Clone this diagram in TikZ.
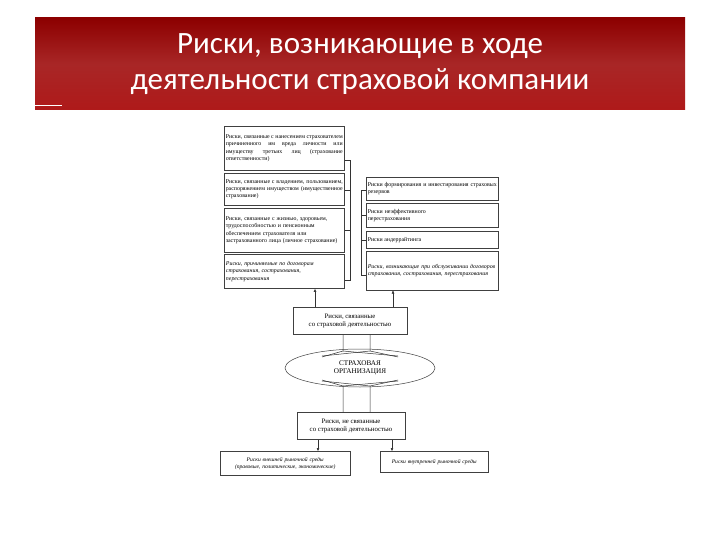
\documentclass[tikz,border=0pt]{standalone}
\usepackage{fontspec}
\setmainfont{Liberation Serif}
\newfontfamily\titlefont{Carlito}
\usetikzlibrary{shapes.geometric,arrows.meta}
\begin{document}
\begin{tikzpicture}[x=1pt,y=-1pt,
  bx/.style={draw=black!75,line width=0.5pt,inner sep=1.5pt,font=\fontsize{5.9}{7.2}\selectfont,align=justify,anchor=north west},
  bxb/.style={bx,line width=0.9pt,font=\fontsize{5.9}{7.2}\selectfont\itshape},
  ln/.style={draw=black!80,line width=0.5pt},
  ar/.style={ln,-{Triangle[length=3pt,width=2.5pt]}}]
\useasboundingbox (0,0) rectangle (720,540);
\fill[white] (0,0) rectangle (720,540);
\shade[top color=red!55!black, bottom color=red!65!black!90, middle color=red!60!black!85] (35,18) rectangle (685,110);
\node[text=white,font=\titlefont\fontsize{31}{36}\selectfont,align=center] (title) at (360,64) {Риски, возникающие в ходе\\деятельности страховой компании};
\draw[white,line width=0.8pt] (35,105) -- (62,105);
% left column
\node[bx,text width=117pt,minimum height=44pt] (l1) at (224,126) {Риски, связанные с нанесением страхователем причиненного им вреда личности или имуществу третьих лиц (страхование ответственности)};
\node[bx,text width=117pt,minimum height=32pt] (l2) at (224,173) {Риски, связанные с владением, пользованием, распоряжением имуществом (имущественное страхование)};
\node[bx,text width=117pt,minimum height=44pt,align=left] (l3) at (224,208) {Риски, связанные с жизнью, здоровьем, трудоспособностью и пенсионным обеспечением страхователя или застрахованного лица (личное страхование)};
\node[bxb,text width=117pt,minimum height=34pt,align=left] (l4) at (224,254) {Риски, причиняемые по договорам страхования, сострахования, перестрахования};
% right column
\node[bx,text width=129pt,minimum height=23pt] (r1) at (366,177) {Риски формирования и инвестирования страховых резервов};
\node[bx,text width=129pt,minimum height=24pt,align=left] (r2) at (366,203) {Риски неэффективного\\перестрахования};
\node[bx,text width=129pt,minimum height=17pt] (r3) at (366,231) {Риски андеррайтинга};
\node[bxb,text width=129pt,minimum height=39pt,line width=0.5pt,align=left] (r4) at (366,251) {Риски, возникающие при обслуживании договоров страхования, сострахования, перестрахования};
% brackets
\draw[ln] (l1.east |- 0,160) -- ++(6,0) coordinate (bl1) -- (bl1 |- 0,280) -- (l4.east |- 0,280);
\draw[ln] (bl1 |- 0,190) -- (l2.east |- 0,190);
\draw[ln] (bl1 |- 0,230) -- (l3.east |- 0,230);
\draw[ln] (r1.west |- 0,190) -- ++(-5,0) coordinate (br1) -- (br1 |- 0,275) -- (r4.west |- 0,275);
\draw[ln] (br1 |- 0,215) -- (r2.west |- 0,215);
\draw[ln] (br1 |- 0,240) -- (r3.west |- 0,240);
% middle
\node[draw=black!75,line width=0.5pt,font=\fontsize{6.8}{8.3}\selectfont,align=center,minimum width=114pt,minimum height=27pt] (m1) at (350,321) {Риски, связанные\\со страховой деятельностью};
\node[ellipse,draw=black!75,line width=0.5pt,font=\fontsize{7.2}{8.7}\selectfont,align=center,minimum width=150pt,minimum height=38pt] (org) at (360,368) {СТРАХОВАЯ\\ОРГАНИЗАЦИЯ};
\node[draw=black!75,line width=0.5pt,font=\fontsize{6.8}{8.3}\selectfont,align=center,minimum width=108pt,minimum height=27pt] (m2) at (351,426) {Риски, не связанные\\со страховой деятельностью};
\node[bx,text width=127pt,minimum height=24pt,align=center,font=\fontsize{5.6}{6.8}\selectfont\itshape] (b1) at (220,451) {Риски внешней рыночной среды (правовые, политические, экономические)};
\node[bx,text width=105pt,minimum height=21pt,align=center,font=\fontsize{5.6}{6.8}\selectfont\itshape] (b2) at (380,451) {Риски внутренней рыночной среды};
% arrows
\draw[ar] (m1.north -| 315,0) -- (l4.south -| 315,0);
\draw[ar] (m1.north -| 393,0) -- (r4.south -| 393,0);
\draw[ar] (m2.south -| 318,0) -- (b1.north -| 318,0);
\draw[ar] (m2.south -| 392,0) -- (b2.north -| 392,0);
% X connectors
\draw[ln] (m1.south -| 343,0) -- (343,351) -- (322,357);
\draw[ln] (m1.south -| 370,0) -- (370,351) -- (398,357);
\draw[ln] (343,351) -- (398,356) ;
\draw[ln] (370,351) -- (322,356);
\draw[ln] (m2.north -| 343,0) -- (343,386) -- (322,380);
\draw[ln] (m2.north -| 370,0) -- (370,386) -- (398,380);
\draw[ln] (343,386) -- (398,381);
\draw[ln] (370,386) -- (322,381);
\end{tikzpicture}
\end{document}
